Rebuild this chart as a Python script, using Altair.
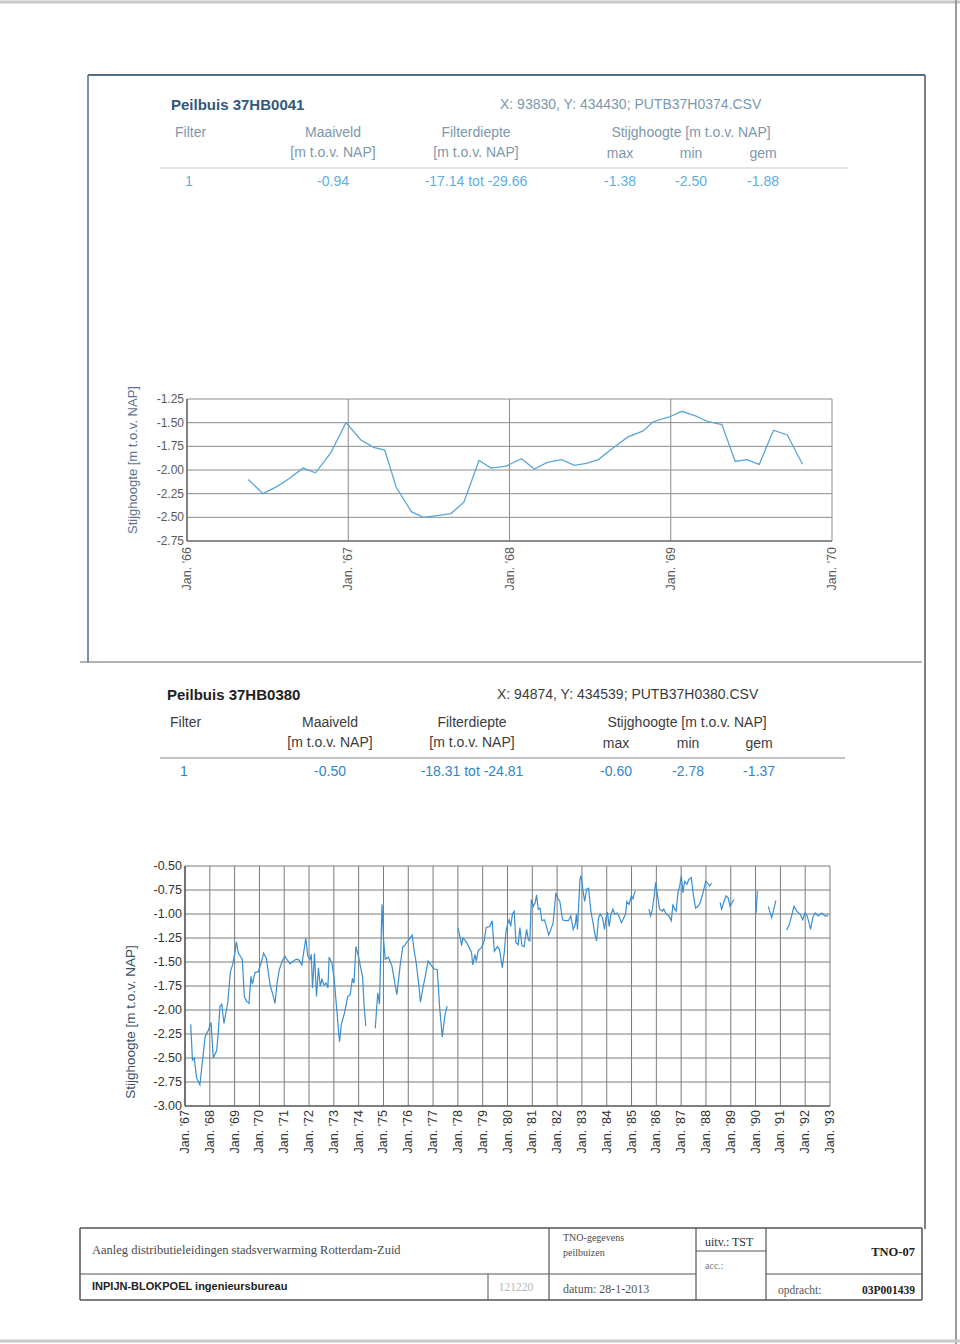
import altair as alt
import pandas as pd

# ---------------- data: Peilbuis 37HB0041 (top chart) ----------------
top_year = [1966.380, 1966.471, 1966.563, 1966.634, 1966.720, 1966.797, 1966.891, 1966.986,
            1967.077, 1967.157, 1967.226, 1967.297, 1967.391, 1967.466, 1967.560, 1967.637,
            1967.717, 1967.811, 1967.886, 1967.977, 1968.074, 1968.154, 1968.234, 1968.323,
            1968.403, 1968.477, 1968.551, 1968.640, 1968.734, 1968.826, 1968.891, 1968.991,
            1969.069, 1969.157, 1969.234, 1969.317, 1969.400, 1969.471, 1969.549, 1969.637,
            1969.723, 1969.817]
top_level = [-2.10, -2.25, -2.17, -2.09, -1.98, -2.03, -1.82, -1.50,
             -1.68, -1.76, -1.79, -2.18, -2.44, -2.50, -2.48, -2.46,
             -2.34, -1.90, -1.98, -1.96, -1.88, -1.99, -1.92, -1.89,
             -1.95, -1.93, -1.89, -1.77, -1.65, -1.59, -1.49, -1.44,
             -1.38, -1.43, -1.49, -1.52, -1.91, -1.89, -1.94, -1.58,
             -1.63, -1.94]
top_yticks = [-1.25, -1.50, -1.75, -2.00, -2.25, -2.50, -2.75]
top_ylabels = ["-1.25", "-1.50", "-1.75", "-2.00", "-2.25", "-2.50", "-2.75"]
top_xticks = [1966, 1967, 1968, 1969, 1970]
top_xlabels = ["Jan. '66", "Jan. '67", "Jan. '68", "Jan. '69", "Jan. '70"]

# ---------------- data: Peilbuis 37HB0380 (bottom chart) ----------------
bot_year = [
    # segment 0
    1967.23, 1967.30, 1967.37, 1967.47, 1967.60, 1967.81, 1967.94, 1968.05, 1968.14, 1968.28,
    1968.34, 1968.41, 1968.48, 1968.57, 1968.72, 1968.83, 1968.92, 1969.02, 1969.07, 1969.15,
    1969.31, 1969.39, 1969.49, 1969.58, 1969.66, 1969.72, 1969.82, 1969.96, 1970.09, 1970.17,
    1970.28, 1970.43, 1970.52, 1970.63, 1970.71, 1970.80, 1970.92, 1971.03, 1971.10, 1971.23,
    1971.37, 1971.49, 1971.60, 1971.71, 1971.87, 1971.95, 1972.05, 1972.09, 1972.14, 1972.22,
    1972.30, 1972.38, 1972.45, 1972.52, 1972.60, 1972.69, 1972.76, 1972.81, 1972.92, 1973.01,
    1973.12, 1973.19, 1973.23, 1973.30, 1973.43, 1973.56, 1973.66, 1973.75, 1973.81, 1973.89,
    1973.99, 1974.16, 1974.22, 1974.29,
    # segment 1
    1974.67, 1974.77, 1974.84, 1974.94, 1975.00, 1975.07, 1975.20, 1975.34, 1975.54, 1975.67,
    1975.78, 1975.85, 1975.92, 1976.02, 1976.16, 1976.23, 1976.32, 1976.43, 1976.49, 1976.59,
    1976.67, 1976.80, 1976.94, 1977.03, 1977.17, 1977.26, 1977.37, 1977.48, 1977.57,
    # segment 2
    1978.01, 1978.11, 1978.15, 1978.20, 1978.31, 1978.44, 1978.55, 1978.60, 1978.69, 1978.74,
    1978.82, 1978.95, 1979.06, 1979.14, 1979.28, 1979.38, 1979.47, 1979.59, 1979.68, 1979.79,
    1979.87, 1979.94, 1980.00, 1980.07, 1980.13, 1980.20, 1980.27, 1980.34, 1980.43, 1980.50,
    1980.58, 1980.67, 1980.77, 1980.84, 1980.90, 1980.96, 1981.04, 1981.12, 1981.17, 1981.24,
    1981.31, 1981.39, 1981.48, 1981.55, 1981.66, 1981.75, 1981.84, 1981.95, 1982.02, 1982.11,
    1982.22, 1982.33, 1982.46, 1982.55, 1982.65, 1982.73, 1982.78, 1982.82, 1982.92, 1982.97,
    1983.03, 1983.11, 1983.19, 1983.27, 1983.36, 1983.46, 1983.54, 1983.59, 1983.67, 1983.74,
    1983.83, 1983.91, 1983.97, 1984.03, 1984.10, 1984.17, 1984.25, 1984.32, 1984.41, 1984.49,
    1984.59, 1984.65, 1984.76, 1984.81, 1984.90, 1984.99, 1985.06, 1985.12, 1985.16,
    # segment 3
    1985.70, 1985.77, 1985.84, 1985.93, 1985.97, 1986.06, 1986.13, 1986.24, 1986.30, 1986.40,
    1986.51, 1986.60, 1986.67, 1986.74, 1986.80, 1986.87, 1986.94, 1987.01, 1987.07, 1987.14,
    1987.23, 1987.31, 1987.41, 1987.48, 1987.58, 1987.68, 1987.77, 1987.88, 1987.99, 1988.08,
    1988.15, 1988.23,
    # segment 4
    1988.57, 1988.63, 1988.73, 1988.81, 1988.89, 1988.97, 1989.08, 1989.13,
    # segment 5
    1990.02, 1990.07,
    # segment 6
    1990.51, 1990.65, 1990.82,
    # segment 7
    1991.25, 1991.36, 1991.45, 1991.55, 1991.66, 1991.79, 1991.90, 1991.99, 1992.08, 1992.22,
    1992.30, 1992.40, 1992.53, 1992.66, 1992.80, 1992.93,
]
bot_level = [
    -2.15, -2.52, -2.50, -2.71, -2.78, -2.28, -2.21, -2.13, -2.50, -2.42,
    -2.24, -1.96, -1.94, -2.14, -1.93, -1.60, -1.53, -1.39, -1.29, -1.41,
    -1.47, -1.86, -1.91, -1.93, -1.65, -1.73, -1.61, -1.60, -1.49, -1.41,
    -1.46, -1.74, -1.82, -1.93, -1.72, -1.58, -1.49, -1.44, -1.47, -1.52,
    -1.49, -1.47, -1.48, -1.53, -1.25, -1.44, -1.47, -1.42, -1.77, -1.41,
    -1.86, -1.56, -1.75, -1.68, -1.74, -1.72, -1.77, -1.45, -1.51, -1.67,
    -2.00, -2.22, -2.33, -2.15, -2.03, -1.86, -1.84, -1.67, -1.72, -1.34,
    -1.44, -1.66, -1.96, -2.17,
    -2.19, -1.82, -1.94, -0.90, -1.25, -1.47, -1.45, -1.54, -1.84, -1.54,
    -1.34, -1.33, -1.30, -1.27, -1.22, -1.37, -1.51, -1.75, -1.92, -1.77,
    -1.67, -1.49, -1.54, -1.57, -1.58, -1.96, -2.28, -2.05, -1.96,
    -1.15, -1.27, -1.33, -1.25, -1.28, -1.34, -1.40, -1.53, -1.42, -1.49,
    -1.38, -1.35, -1.28, -1.14, -1.13, -1.07, -1.39, -1.34, -1.37, -1.56,
    -1.40, -1.18, -1.11, -1.06, -1.13, -1.00, -0.97, -1.30, -1.32, -1.14,
    -1.33, -1.34, -1.16, -1.27, -1.28, -0.85, -0.92, -0.88, -0.80, -0.95,
    -0.94, -1.07, -1.06, -1.11, -1.22, -1.16, -1.09, -0.78, -0.83, -0.87,
    -1.06, -1.07, -1.07, -1.02, -1.16, -1.11, -1.00, -1.16, -0.64, -0.60,
    -0.73, -0.87, -0.74, -0.73, -0.97, -1.11, -1.23, -1.28, -1.04, -1.00,
    -1.04, -1.16, -1.04, -0.98, -1.13, -1.00, -0.95, -1.00, -0.99, -1.02,
    -1.09, -1.06, -1.00, -0.87, -0.90, -0.81, -0.84, -0.78, -0.76,
    -0.95, -1.02, -0.95, -0.78, -0.67, -0.83, -0.95, -0.97, -0.95, -1.00,
    -1.02, -1.07, -0.90, -0.95, -0.97, -0.78, -0.71, -0.60, -0.78, -0.66,
    -0.69, -0.64, -0.62, -0.78, -0.94, -0.92, -0.88, -0.78, -0.66, -0.68,
    -0.71, -0.68,
    -0.88, -0.95, -0.87, -0.81, -0.83, -0.92, -0.87, -0.85,
    -0.99, -0.76,
    -0.92, -1.04, -0.86,
    -1.17, -1.11, -1.02, -0.92, -0.97, -1.00, -1.06, -0.99, -1.02, -1.16,
    -1.04, -0.99, -1.02, -0.99, -1.02, -1.02,
]
bot_seg_sizes = [74, 29, 89, 32, 8, 2, 3, 16]
bot_yticks = [-0.50, -0.75, -1.00, -1.25, -1.50, -1.75, -2.00, -2.25, -2.50, -2.75, -3.00]
bot_ylabels = ["-0.50", "-0.75", "-1.00", "-1.25", "-1.50", "-1.75", "-2.00", "-2.25",
               "-2.50", "-2.75", "-3.00"]
bot_xticks = list(range(1967, 1994))
bot_xlabels = ["Jan. '%02d" % (y % 100) for y in bot_xticks]

# ---------------- helpers ----------------
SANS = "Liberation Sans"
SERIF = "Liberation Serif"
one = pd.DataFrame({"k": [0]})


def txt(s, x, y, size=13, color="#333333", weight="normal", align="left",
        font=SANS, angle=0, baseline="middle"):
    return alt.Chart(pd.DataFrame({"t": [s]})).mark_text(
        x=x, y=y, fontSize=size, color=color, fontWeight=weight, align=align,
        font=font, angle=angle, baseline=baseline
    ).encode(text="t:N")


def seg(x1, y1, x2, y2, color="#444444", width=1.0):
    return alt.Chart(one).mark_rule(color=color, strokeWidth=width).encode(
        x=alt.value(x1), y=alt.value(y1), x2=alt.value(x2), y2=alt.value(y2))


layers = []

# page edge and frame
layers += [
    seg(0, 2, 960, 2, "#c8c8c8", 3),
    seg(956, 0, 956, 1344, "#9a9a9a", 2),
    seg(0, 1341, 960, 1341, "#c8c8c8", 3),
    seg(88, 75, 925, 75, "#4f6f86", 2),
    seg(88, 75, 88, 662, "#4f6f86", 1.5),
    seg(925, 75, 925, 1229, "#555555", 1.5),
    seg(80, 662, 922, 662, "#666666", 1.2),
]


def header(title, coords, vals, y0, title_c, head_c, val_c, x_title, x_coord, cols):
    cF, cM, cD, cS, cmax, cmin, cgem = cols
    out = [
        txt(title, x_title, y0, 15, title_c, "bold"),
        txt(coords, x_coord, y0, 14, head_c),
        txt("Filter", cF, y0 + 28, 14, head_c),
        txt("Maaiveld", cM, y0 + 28, 14, head_c, align="center"),
        txt("[m t.o.v. NAP]", cM, y0 + 48, 14, head_c, align="center"),
        txt("Filterdiepte", cD, y0 + 28, 14, head_c, align="center"),
        txt("[m t.o.v. NAP]", cD, y0 + 48, 14, head_c, align="center"),
        txt("Stijghoogte [m t.o.v. NAP]", cS, y0 + 28, 14, head_c, align="center"),
        txt("max", cmax, y0 + 49, 14, head_c, align="center"),
        txt("min", cmin, y0 + 49, 14, head_c, align="center"),
        txt("gem", cgem, y0 + 49, 14, head_c, align="center"),
    ]
    xs = [cF + 14, cM, cD, cmax, cmin, cgem]
    for v, x in zip(vals, xs):
        out.append(txt(v, x, y0 + 77, 14, val_c, align="center"))
    return out


layers += header("Peilbuis 37HB0041", "X: 93830, Y: 434430;  PUTB37H0374.CSV",
                 ["1", "-0.94", "-17.14 tot -29.66", "-1.38", "-2.50", "-1.88"],
                 105, "#34587a", "#7d97ad", "#5eaee0", 171, 500,
                 (175, 333, 476, 691, 620, 691, 763))
layers.append(seg(160, 168, 848, 168, "#c9c9c9", 1.2))

layers += header("Peilbuis 37HB0380", "X: 94874, Y: 434539;  PUTB37H0380.CSV",
                 ["1", "-0.50", "-18.31 tot -24.81", "-0.60", "-2.78", "-1.37"],
                 695, "#222222", "#3c3c3c", "#2f86c8", 167, 497,
                 (170, 330, 472, 687, 616, 688, 759))
layers.append(seg(160, 758, 845, 758, "#8a8a8a", 1.2))

# ---------------- top chart ----------------
tx = alt.Scale(domain=[1966, 1970], range=[187, 832], nice=False, zero=False)
ty = alt.Scale(domain=[-2.75, -1.25], range=[541, 399], nice=False, zero=False)
df_tyt = pd.DataFrame({"v": top_yticks, "lab": top_ylabels})
df_txt = pd.DataFrame({"yr": top_xticks, "lab": top_xlabels})
df_top = pd.DataFrame({"yr": top_year, "lvl": top_level})

layers += [
    alt.Chart(df_tyt).mark_rule(color="#8c8c8c", strokeWidth=1).encode(
        y=alt.Y("v:Q", scale=ty, axis=None), x=alt.value(187), x2=alt.value(832)),
    alt.Chart(df_txt).mark_rule(color="#8c8c8c", strokeWidth=1).encode(
        x=alt.X("yr:Q", scale=tx, axis=None), y=alt.value(399), y2=alt.value(541)),
    seg(187, 399, 187, 541, "#555555", 1.2),
    seg(187, 541, 832, 541, "#555555", 1.2),
    alt.Chart(df_top).mark_line(color="#5aa6d6", strokeWidth=1.3).encode(
        x=alt.X("yr:Q", scale=tx, axis=None), y=alt.Y("lvl:Q", scale=ty, axis=None)),
    alt.Chart(df_tyt).mark_text(align="right", baseline="middle", fontSize=12,
                                font=SANS, color="#5a5a5a").encode(
        y=alt.Y("v:Q", scale=ty, axis=None), x=alt.value(184), text="lab:N"),
    alt.Chart(df_txt).mark_text(align="right", baseline="middle", fontSize=12.5,
                                font=SANS, color="#5a5a5a", angle=270).encode(
        x=alt.X("yr:Q", scale=tx, axis=None), y=alt.value(547), text="lab:N"),
    txt("Stijghoogte [m t.o.v. NAP]", 133, 460, 13, "#5b7590", align="center", angle=270),
]

# ---------------- bottom chart ----------------
bx = alt.Scale(domain=[1967, 1993], range=[185, 830], nice=False, zero=False)
by = alt.Scale(domain=[-3.0, -0.5], range=[1106, 866], nice=False, zero=False)
seg_ids = []
for i, n in enumerate(bot_seg_sizes):
    seg_ids += [i] * n
df_bot = pd.DataFrame({"yr": bot_year, "lvl": bot_level, "seg": seg_ids})
df_byt = pd.DataFrame({"v": bot_yticks, "lab": bot_ylabels})
df_bxt = pd.DataFrame({"yr": bot_xticks, "lab": bot_xlabels})

layers += [
    alt.Chart(df_byt).mark_rule(color="#7a7a7a", strokeWidth=1).encode(
        y=alt.Y("v:Q", scale=by, axis=None), x=alt.value(185), x2=alt.value(830)),
    alt.Chart(df_bxt).mark_rule(color="#7a7a7a", strokeWidth=1).encode(
        x=alt.X("yr:Q", scale=bx, axis=None), y=alt.value(866), y2=alt.value(1106)),
    seg(185, 866, 185, 1106, "#444444", 1.2),
    seg(185, 1106, 830, 1106, "#444444", 1.2),
    alt.Chart(df_bot).mark_line(color="#3a8fd2", strokeWidth=1.2).encode(
        x=alt.X("yr:Q", scale=bx, axis=None), y=alt.Y("lvl:Q", scale=by, axis=None),
        detail="seg:N", order="yr:Q"),
    alt.Chart(df_byt).mark_text(align="right", baseline="middle", fontSize=12.5,
                                font=SANS, color="#333333").encode(
        y=alt.Y("v:Q", scale=by, axis=None), x=alt.value(182), text="lab:N"),
    alt.Chart(df_bxt).mark_text(align="right", baseline="middle", fontSize=12.5,
                                font=SANS, color="#333333", angle=270).encode(
        x=alt.X("yr:Q", scale=bx, axis=None), y=alt.value(1110), text="lab:N"),
    txt("Stijghoogte [m t.o.v. NAP]", 131, 1022, 13.5, "#3a4f66", align="center", angle=270),
]

# ---------------- footer box ----------------
FC = "#555555"
layers += [
    seg(80, 1228, 922, 1228, FC, 1.5),
    seg(80, 1300, 922, 1300, FC, 1.5),
    seg(80, 1228, 80, 1300, FC, 1.5),
    seg(922, 1228, 922, 1300, FC, 1.5),
    seg(80, 1274, 696, 1274, FC, 1.2),
    seg(766, 1274, 922, 1274, FC, 1.2),
    seg(696, 1251, 766, 1251, FC, 1),
    seg(549, 1228, 549, 1300, FC, 1.2),
    seg(488, 1274, 488, 1300, FC, 1),
    seg(696, 1228, 696, 1300, FC, 1.2),
    seg(766, 1228, 766, 1300, FC, 1.2),
    txt("Aanleg distributieleidingen stadsverwarming Rotterdam-Zuid", 92, 1250, 12.5,
        "#4a4a4a", font=SERIF),
    txt("TNO-gegevens", 563, 1238, 10, "#4a4a4a", font=SERIF),
    txt("peilbuizen", 563, 1253, 10, "#4a4a4a", font=SERIF),
    txt("uitv.: TST", 705, 1242, 12, "#333333", font=SERIF),
    txt("acc.:", 705, 1266, 10, "#777777", font=SERIF),
    txt("TNO-07", 915, 1252, 12.5, "#222222", "bold", align="right", font=SERIF),
    txt("INPIJN-BLOKPOEL ingenieursbureau", 92, 1287, 11, "#222222", "bold"),
    txt("121220", 516, 1288, 11.5, "#b5b5b5", font=SERIF, align="center"),
    txt("datum:  28-1-2013", 563, 1289, 12, "#555555", font=SERIF),
    txt("opdracht:", 778, 1291, 11.5, "#555555", font=SERIF),
    txt("03P001439", 915, 1291, 11.5, "#222222", "bold", align="right", font=SERIF),
]

chart = alt.layer(*layers).resolve_scale(
    x="independent", y="independent"
).properties(
    width=960, height=1344, padding=0,
    autosize=alt.AutoSizeParams(type="none"),
    background="white",
).configure_view(stroke=None)

chart.save("out.html", embed_options={"renderer": "svg", "actions": False})
